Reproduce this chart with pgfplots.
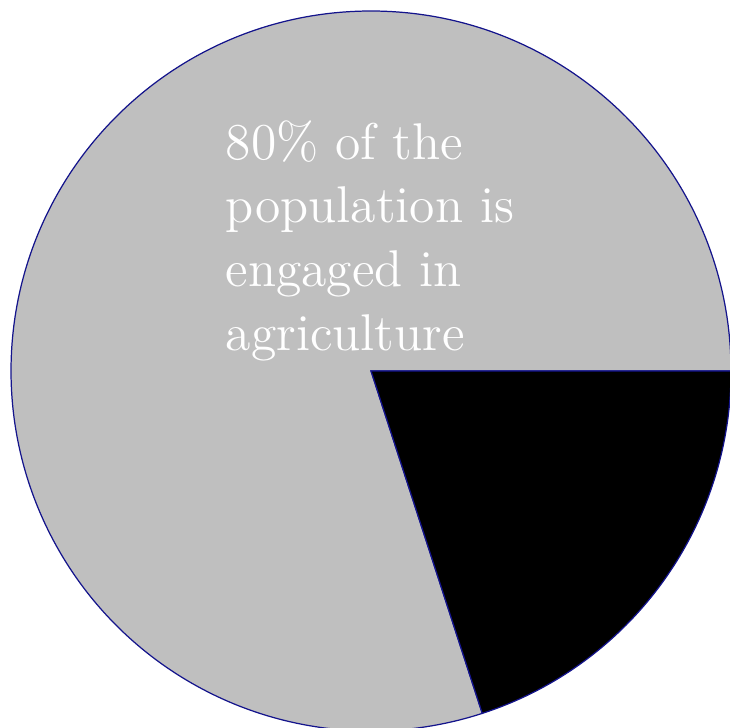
\documentclass[border=0pt]{standalone}
\usepackage{pgfplots}
\pgfplotsset{compat=1.18}
\usepackage{pgfplotstable}
\definecolor{slicegray}{RGB}{191,191,191}
\definecolor{edgeblue}{RGB}{20,20,140}
\pgfplotstableread{
label share
agriculture 80
other 20
}\pietable
\begin{document}
\begin{tikzpicture}
\pgfplotstablegetelem{0}{share}\of\pietable \let\shareA\pgfplotsretval
\pgfplotstablegetelem{1}{share}\of\pietable \let\shareB\pgfplotsretval
\pgfmathsetmacro{\angA}{3.6*\shareA}
\pgfmathsetmacro{\angB}{3.6*\shareB}
\begin{axis}[
  scale only axis, width=7.30cm, height=7.27cm,
  xmin=-1.0306, xmax=0.9972, ymin=-0.9889, ymax=1.0306,
  hide axis, clip=true,
]
\path (rel axis cs:0,0) rectangle (rel axis cs:1,1);
% agriculture slice (grey), counterclockwise from 0 deg
\filldraw[fill=slicegray, draw=edgeblue, line width=0.35pt]
  (axis cs:0,0) -- (axis cs:1,0) arc[start angle=0, end angle=\angA, radius=1] -- cycle;
% other slice (black), clockwise from 0 deg
\filldraw[fill=black, draw=edgeblue, line width=0.35pt]
  (axis cs:0,0) -- (axis cs:1,0) arc[start angle=0, end angle=-\angB, radius=1] -- cycle;
\node[anchor=base west, inner sep=0pt, text=white, align=left,
      font=\fontsize{14.7}{18.1}\selectfont]
  at (axis cs:-0.4056,0.058) {80\% of the\\population is\\engaged in\\agriculture};
\end{axis}
\end{tikzpicture}
\end{document}
